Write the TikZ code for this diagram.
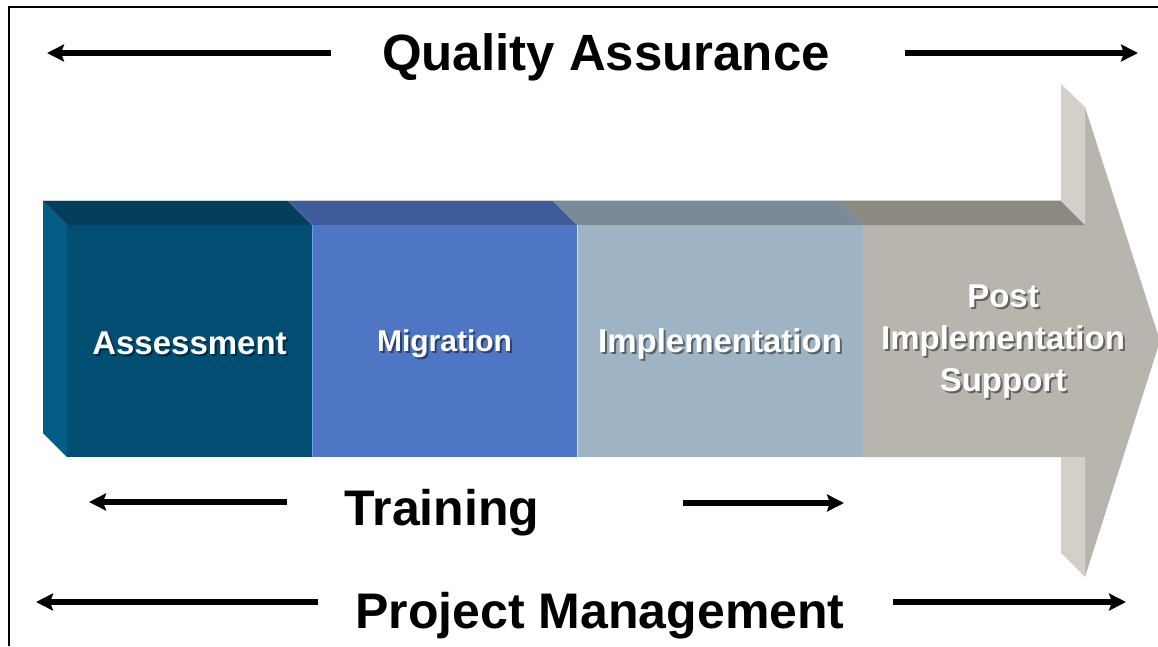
\documentclass[tikz,border=0pt]{standalone}
\usepackage{fontspec}
\setmainfont{Liberation Sans}
\usetikzlibrary{arrows.meta}

\definecolor{asmFront}{HTML}{024E73}
\definecolor{asmTop}{HTML}{033E5C}
\definecolor{asmSide}{HTML}{035C88}
\definecolor{migFront}{HTML}{4F76C4}
\definecolor{migTop}{HTML}{3E5C99}
\definecolor{migEdge}{HTML}{6FA0EE}
\definecolor{impFront}{HTML}{9EB4C5}
\definecolor{impTop}{HTML}{7A8B97}
\definecolor{impEdge}{HTML}{D2E2EF}
\definecolor{supFront}{HTML}{B8B4AE}
\definecolor{supTop}{HTML}{8C8983}
\definecolor{supLight}{HTML}{D4D0C9}

\begin{document}
\begin{tikzpicture}[x=1pt,y=-1pt,
  arr/.style={line width=5.5pt, -{Stealth[length=17pt,width=17pt,inset=3pt]}},
  heading/.style={font=\bfseries\fontsize{#1}{#1}\selectfont, anchor=base, inner sep=0pt, text=black},
  heading/.default=51,
  phase/.style={font=\bfseries\fontsize{#1}{42}\selectfont, inner sep=0pt, align=center, text=white},
  phase/.default=33,
  phaseshadow/.style={phase=#1, text=black, opacity=0.45},
  phaseshadow/.default=33
]
\useasboundingbox (0,0) rectangle (1158,646);
\fill[white] (0,0) rectangle (1158,646);
\clip (0,0) rectangle (1158,646);

% frame lines along the left and top
\draw[line width=2.5pt] (9,646) -- (9,7) -- (1158,7);

% --- Post Implementation Support: the arrow body and head ---
\fill[supFront] (863,225) -- (1085,225) -- (1085,107) -- (1160,341)
  -- (1085,577) -- (1085,457) -- (863,457) -- cycle;
\fill[supTop] (839,201) -- (1061,201) -- (1085,225) -- (863,225) -- cycle;
\fill[supLight] (1061,84) -- (1085,107) -- (1085,225) -- (1061,201) -- cycle;
\fill[supLight] (1061,457) -- (1085,457) -- (1085,577) -- (1061,553) -- cycle;

% --- Assessment block ---
\fill[asmSide] (43,201) -- (67,225) -- (67,457) -- (43,433) -- cycle;
\fill[asmTop] (43,201) -- (288,201) -- (312,225) -- (67,225) -- cycle;
\fill[asmFront] (67,225) rectangle (312,457);

% --- Migration block ---
\fill[migTop] (288,201) -- (553,201) -- (577,225) -- (312,225) -- cycle;
\fill[migFront] (312,225) rectangle (577,457);
\draw[migEdge, line width=1.5pt] (312.5,225) -- (312.5,457);

% --- Implementation block ---
\fill[impTop] (553,201) -- (839,201) -- (863,225) -- (577,225) -- cycle;
\fill[impFront] (577,225) rectangle (863,457);
\draw[impEdge, line width=1.5pt] (577.5,225) -- (577.5,457);

% faint highlight along the back edge of the top faces
\draw[black!18, line width=0.8pt] (43,200.5) -- (1061,200.5);

% --- phase labels (with drop shadow) ---
\node[phaseshadow] (asmS) at (191.5,345.5) {Assessment};
\node[phase] (asm) at (189.5,343.5) {Assessment};
\node[phaseshadow=30] (migS) at (446.5,345.5) {Migration};
\node[phase=30] (mig) at (444.5,343.5) {Migration};
\node[phaseshadow] (impS) at (722,345.5) {Implementation};
\node[phase] (imp) at (720,343.5) {Implementation};
\node[phaseshadow] (supS) at (1005,344) {Post\\Implementation\\Support};
\node[phase] (sup) at (1003,342) {Post\\Implementation\\Support};

% --- Quality Assurance ---
\node[heading] (qa) at (606,70) {Quality Assurance};
\coordinate (qaL0) at (331,53);
\coordinate (qaL1) at (47,53);
\coordinate (qaR0) at (905,53);
\coordinate (qaR1) at (1138,53);
\draw[arr] (qaL0) -- (qaL1);
\draw[arr] (qaR0) -- (qaR1);

% --- Training ---
\node[heading=50] (tr) at (442,525) {Training};
\coordinate (trL0) at (287,502);
\coordinate (trL1) at (89,502);
\coordinate (trR0) at (683,503);
\coordinate (trR1) at (844,503);
\draw[arr] (trL0) -- (trL1);
\draw[arr] (trR0) -- (trR1);

% --- Project Management ---
\node[heading=50] (pm) at (600,628) {Project Management};
\coordinate (pmL0) at (318,602);
\coordinate (pmL1) at (36,602);
\coordinate (pmR0) at (893,602);
\coordinate (pmR1) at (1126,602);
\draw[arr] (pmL0) -- (pmL1);
\draw[arr] (pmR0) -- (pmR1);
\end{tikzpicture}
\end{document}
